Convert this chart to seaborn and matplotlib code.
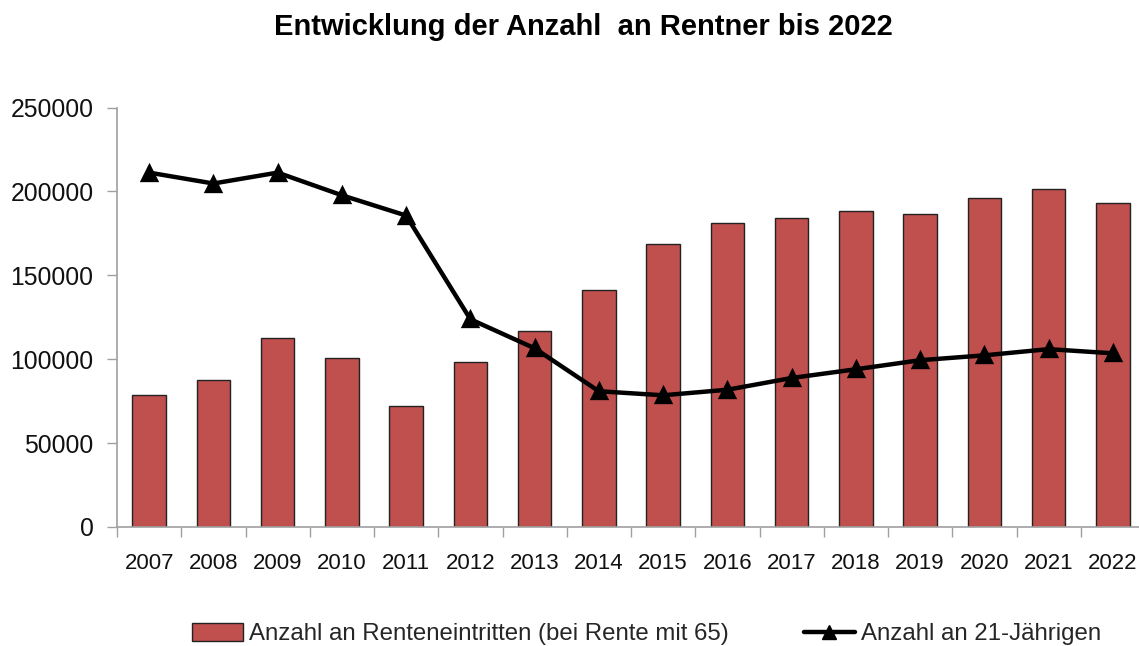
import numpy as np
import pandas as pd
import matplotlib
matplotlib.use("Agg")
import matplotlib.pyplot as plt
from matplotlib import font_manager
from matplotlib.patches import Patch
from matplotlib.lines import Line2D
import seaborn as sns

years = ["2007", "2008", "2009", "2010", "2011", "2012", "2013", "2014",
         "2015", "2016", "2017", "2018", "2019", "2020", "2021", "2022"]
renteneintritte = [78600, 87800, 112700, 100700, 72000, 98300, 116600, 141000,
                   168800, 181100, 183900, 188400, 186300, 196000, 201300, 193000]
einundzwanzig = [211200, 204700, 211200, 197700, 185600, 123800, 106500, 80900,
                 78500, 81800, 88800, 94000, 99400, 102300, 106000, 103500]
yticks = [0, 50000, 100000, 150000, 200000, 250000]
title = "Entwicklung der Anzahl  an Rentner bis 2022"
label_bar = "Anzahl an Renteneintritten (bei Rente mit 65)"
label_line = "Anzahl an 21-Jährigen"

sns.set_theme(style="white")
names = {f.name for f in font_manager.fontManager.ttflist}
base = "Liberation Sans" if "Liberation Sans" in names else "DejaVu Sans"
narrow = "Liberation Sans Narrow" if "Liberation Sans Narrow" in names else base
plt.rcParams["font.family"] = [base, "DejaVu Sans"]

df = pd.DataFrame({"Jahr": years, "Renten": renteneintritte, "J21": einundzwanzig})

fig = plt.figure(figsize=(11.39, 6.46), dpi=100)
ax = fig.add_axes([117/1139, 119/646, 1028/1139, 419.5/646])

sns.barplot(data=df, x="Jahr", y="Renten", color="#C0504D", saturation=1,
            width=0.52, edgecolor="#222222", linewidth=1.0, ax=ax, zorder=2)
sns.pointplot(data=df, x="Jahr", y="J21", color="black", markers="^",
              linestyles="-", markersize=10, linewidth=3.2, ax=ax, zorder=3)

ax.set_xlim(-0.5, len(years) - 0.5)
ax.set_ylim(0, 250000)
ax.set_yticks(yticks)
ax.set_yticklabels([str(v) for v in yticks], fontsize=17.8, color="#111111")
ax.set_xlabel("")
ax.set_ylabel("")

for lab in ax.get_xticklabels():
    lab.set_fontfamily([narrow, "DejaVu Sans"])
    lab.set_fontsize(16)
    lab.set_color("#111111")
ax.tick_params(axis="x", which="major", length=0, pad=19)
ax.set_xticks(np.arange(-0.5, len(years), 1), minor=True)
ax.tick_params(axis="x", which="minor", length=7, color="#A0A0A0", width=1, direction="out")
ax.tick_params(axis="y", length=7, color="#A0A0A0", width=1, direction="out", pad=10, left=True)
ax.tick_params(axis="x", which="minor", bottom=True)

for side in ["top", "right"]:
    ax.spines[side].set_visible(False)
for side in ["left", "bottom"]:
    ax.spines[side].set_color("#A0A0A0")
    ax.spines[side].set_linewidth(1.2)

fig.text(583/1139, 1 - 27/646, title, ha="center", va="center",
         fontsize=21, fontweight="bold", color="black")

handles = [Patch(facecolor="#C0504D", edgecolor="#222222", linewidth=1.0, label=label_bar),
           Line2D([0], [0], color="black", linewidth=3.2, marker="^", markersize=10, label=label_line)]
fig.legend(handles=handles, loc="center", bbox_to_anchor=(0.5676, 1 - 634/646), ncol=2,
           frameon=False, prop={"family": [narrow, "DejaVu Sans"], "size": 17.3},
           handlelength=2.15, handleheight=0.75, handletextpad=0.25, columnspacing=3.1)

fig.savefig("out.png", dpi=100)
